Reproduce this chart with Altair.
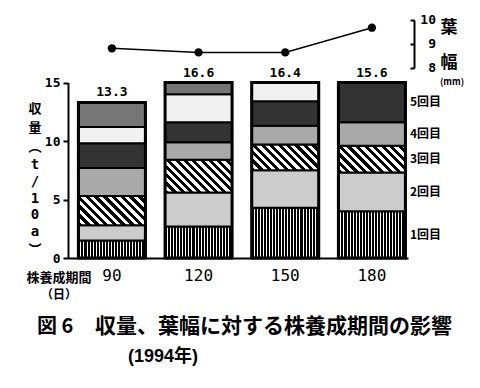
import math
import altair as alt
import pandas as pd

# ---------------- data ----------------
days = ["90", "120", "150", "180"]
totals = [13.3, 16.6, 16.4, 15.6]
leaf_width = [8.82, 8.65, 8.65, 9.68]
h1 = [1.5, 2.7, 4.3, 4.0]   # 1回目
h2 = [1.3, 2.9, 3.2, 3.3]   # 2回目
h3 = [2.5, 2.8, 2.2, 2.3]   # 3回目
h4 = [2.4, 1.5, 1.6, 2.0]   # 4回目
h5 = [2.1, 1.7, 2.1, 4.0]   # 5回目
h6 = [1.4, 2.4, 3.0, 0.0]   # 6回目
h7 = [2.1, 2.6, 0.0, 0.0]   # 7回目
harvests = [h1, h2, h3, h4, h5, h6, h7]
seg_names = ["1回目", "2回目", "3回目", "4回目", "5回目", "", ""]
y_ticks = [0, 5, 10, 15]
w_ticks = [8, 9, 10]
# vertical y-axis title: (character, is_cjk)
y_title_chars = [("収", True), ("量", True), ("︵", True), ("t", False),
                 ("/", False), ("1", False), ("0", False), ("a", False),
                 ("︶", True)]

rows = []
for j, d in enumerate(days):
    cum = 0.0
    for i, h in enumerate(harvests):
        v = h[j]
        rows.append(dict(day=d, seg=i + 1, value=v, lo=round(cum, 3),
                         hi=round(cum + v, 3), name=seg_names[i]))
        cum += v
df = pd.DataFrame(rows)
df_tot = pd.DataFrame({"day": days, "total": totals})
df_leaf = pd.DataFrame({"day": days, "w": leaf_width})
df_wt = pd.DataFrame({"v": w_ticks})
one = pd.DataFrame({"a": [0]})

# ---------------- layout ----------------
W, H = 346, 248
YMAX = 15
Y_RANGE = [248, 72.5]
PX_PER_UNIT = (Y_RANGE[0] - Y_RANGE[1]) / YMAX
MONO = "DejaVu Sans Mono"
JP = "Noto Sans CJK JP"

xscale = alt.Scale(range=[0, 340], paddingInner=0.227, paddingOuter=0.075, align=0.8)
xaxis = alt.Axis(title=None, ticks=False, domain=True, domainColor="black",
                 domainWidth=2, labelFont=MONO, labelFontSize=16,
                 labelColor="black", labelPadding=9, labelAngle=0, zindex=2)
xenc = alt.X("day:N", sort=days, scale=xscale, axis=xaxis)
BAND = 340 / (4 - 0.227 + 0.15) * (1 - 0.227)

yscale = alt.Scale(domain=[0, YMAX], range=Y_RANGE, nice=False, zero=True)
yaxis = alt.Axis(values=y_ticks, orient="left", title=None, grid=False,
                 domain=True, ticks=True, labelOverlap=False,
                 domainColor="black", domainWidth=2, tickColor="black",
                 tickWidth=2, tickSize=5, labelFont=MONO, labelFontSize=13,
                 labelFontWeight="bold", labelColor="black", labelPadding=3,
                 format="d", zindex=2)

wscale = alt.Scale(domain=[8, 10], range=[58, 10], nice=False, zero=False)
waxis = alt.Axis(values=w_ticks, orient="left", offset=-W, title=None, grid=False,
                 domain=True, ticks=True, labels=False,
                 domainColor="black", domainWidth=2, tickColor="black",
                 tickWidth=2, tickSize=4, zindex=2)


# ---------------- hatch fills (gradients) ----------------
def stripes(n, frac, x1, y1, x2, y2, c1="#000000", c2="#ffffff"):
    stops = []
    for i in range(n):
        a = round(i / n, 5)
        b = round((i + frac) / n, 5)
        c = round(min((i + 1) / n, 1.0), 5)
        stops += [{"offset": a, "color": c1}, {"offset": b, "color": c1},
                  {"offset": b, "color": c2}, {"offset": c, "color": c2}]
    return {"gradient": "linear", "x1": x1, "y1": y1, "x2": x2, "y2": y2,
            "stops": stops}


def diag(hpx, wpx=BAND, period=6.0):
    s = (wpx + hpx) / (wpx ** 2 + hpx ** 2)
    dist = (wpx + hpx) / math.sqrt(2)
    n = max(2, int(round(dist / period)))
    return stripes(n, 0.5, 0, 1, round(s * wpx, 4), round(1 - s * hpx, 4))


conds = [
    {"test": "datum.seg == 1", "value": stripes(22, 0.67, 0, 0, 1, 0)},
    {"test": "datum.seg == 2", "value": "#cccccc"},
]
for j, d in enumerate(days):
    conds.append({"test": f"datum.seg == 3 && datum.day == '{d}'",
                  "value": diag(h3[j] * PX_PER_UNIT)})
conds += [
    {"test": "datum.seg == 4", "value": "#a9a9a9"},
    {"test": "datum.seg == 5", "value": "#333333"},
    {"test": "datum.seg == 6", "value": "#f1f1f1"},
    {"test": "datum.seg == 7", "value": "#767676"},
]

# ---------------- bars ----------------
seg_bars = alt.Chart(df).transform_filter("datum.value > 0").transform_calculate(
    lo_c=f"min(datum.lo, {YMAX})", hi_c=f"min(datum.hi, {YMAX})"
).mark_bar(stroke="black", strokeWidth=2).encode(
    x=xenc,
    y=alt.Y("lo_c:Q", scale=yscale, axis=yaxis),
    y2="hi_c:Q",
    fill=alt.FillValue(value="#ffffff", condition=conds),
)

outline = alt.Chart(df_tot).transform_calculate(
    top_c=f"min(datum.total, {YMAX})", zero="0"
).mark_bar(fill="transparent", stroke="black", strokeWidth=3).encode(
    x=xenc,
    y=alt.Y("zero:Q", scale=yscale, axis=None),
    y2="top_c:Q",
)

bar_labels = alt.Chart(df_tot).transform_calculate(
    top_c=f"min(datum.total, {YMAX})"
).mark_text(baseline="alphabetic", dy=-6, font=MONO, fontSize=13,
            fontWeight="bold", color="black").encode(
    x=xenc,
    y=alt.Y("top_c:Q", scale=yscale, axis=None),
    text=alt.Text("total:Q", format=".1f"),
)

seg_labels = alt.Chart(df).transform_filter(
    f"datum.day == '{days[-1]}' && datum.name != '' && datum.value > 0"
).transform_calculate(
    mid=f"(min(datum.lo, {YMAX}) + min(datum.hi, {YMAX})) / 2"
).mark_text(align="left", baseline="middle", font=JP, fontSize=12,
            fontWeight="bold", color="black").encode(
    x=alt.value(342),
    y=alt.Y("mid:Q", scale=yscale, axis=None),
    text="name:N",
)

# ---------------- leaf width ----------------
leaf_line = alt.Chart(df_leaf).mark_line(color="black", strokeWidth=1.5).encode(
    x=xenc, y=alt.Y("w:Q", scale=wscale, axis=waxis))
leaf_pts = alt.Chart(df_leaf).mark_point(filled=True, color="black", size=70,
                                         opacity=1).encode(
    x=xenc, y=alt.Y("w:Q", scale=wscale, axis=None))
leaf_tick_labels = alt.Chart(df_wt).mark_text(
    align="right", baseline="middle", font=MONO, fontSize=13,
    fontWeight="bold", color="black").encode(
    x=alt.value(368),
    y=alt.Y("v:Q", scale=wscale, axis=None),
    text=alt.Text("v:Q", format="d"),
)


# ---------------- texts ----------------
def txt(text, x, y, size, font=JP, align="center", baseline="middle",
        weight="bold", **kw):
    return alt.Chart(one).mark_text(text=text, font=font, fontSize=size,
                                    fontWeight=weight, align=align,
                                    baseline=baseline, color="black",
                                    **kw).encode(x=alt.value(x), y=alt.value(y))


texts = []
ypos = 99.0
prev_half = None
for ch, cjk in y_title_chars:
    size = 13 if cjk else 14
    half = size * (1.45 if cjk else 1.17) / 2
    if prev_half is not None:
        ypos += prev_half + half + 0.3
    texts.append(txt(ch, -33, round(ypos, 1), size, font=JP if cjk else MONO))
    prev_half = half

texts += [
    txt("株養成期間", -9, 268, 13),
    txt("（日）", -9, 285, 12),
    txt("葉", 381, 18, 17),
    txt("幅", 381, 53, 17),
    txt("(mm)", 384, 72, 9),
    txt("図 6", -31, 317, 20, align="left"),
    txt("収量、葉幅に対する株養成期間の影響", 27, 317, 21, align="left"),
    txt("(1994年)", 60, 347, 18, align="left",
        font="Liberation Sans Narrow, Liberation Sans, Noto Sans CJK JP"),
]

chart = alt.layer(seg_bars, outline, bar_labels, seg_labels, leaf_line, leaf_pts,
                  leaf_tick_labels, *texts).resolve_scale(
    y="independent"
).properties(
    width=W, height=H, autosize="none",
    padding={"left": 60, "top": 2, "right": 58, "bottom": 120},
    background="white",
).configure_view(strokeWidth=0)

chart.save("out.html", embed_options={"renderer": "svg", "actions": False})
